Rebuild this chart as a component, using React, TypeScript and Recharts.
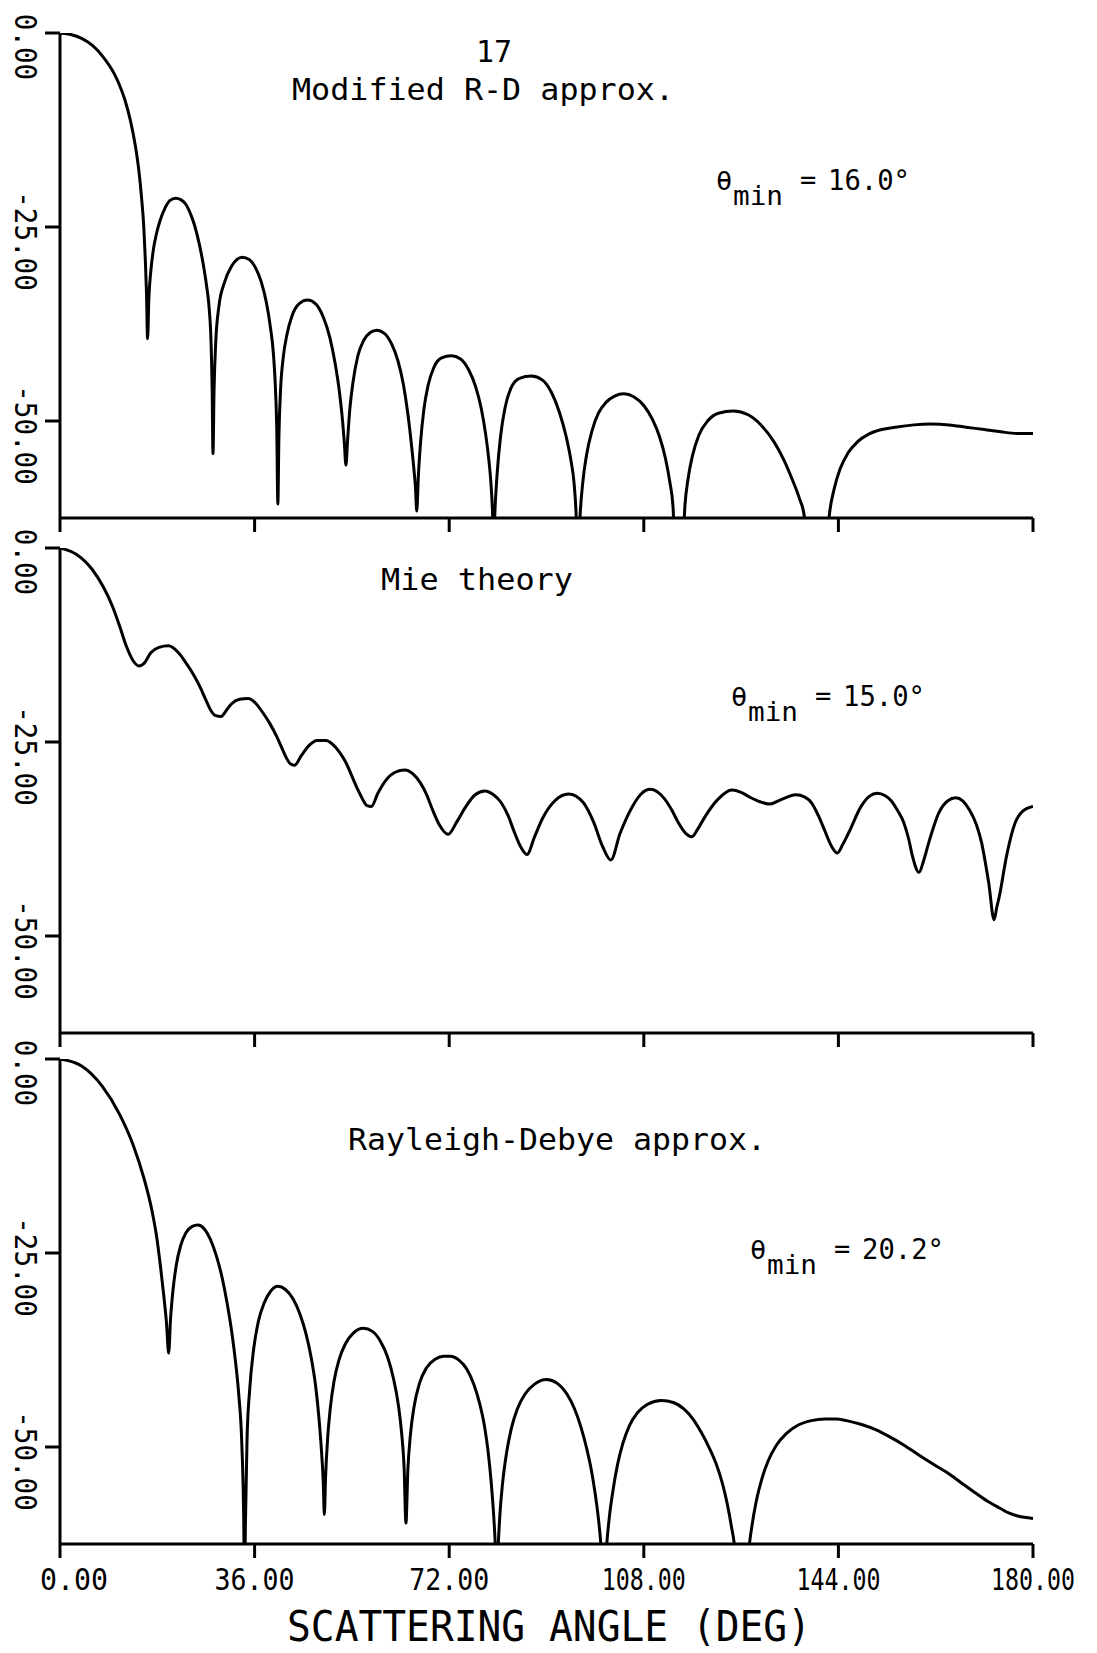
import React from 'react'
import { LineChart, Line, XAxis, YAxis } from 'recharts'

const FONT = '"DejaVu Sans Mono", "Liberation Mono", monospace'

const xTicks = [0, 36, 72, 108, 144, 180]
const yTicks = [0, -25, -50]

// Modified R-D approx. (top panel)
const modAngle = [
  0, 2, 4, 6, 8, 10, 11, 12, 13, 14,
  14.6, 15.1, 15.5, 15.8, 16.0, 16.2, 16.45, 16.8, 17.3, 17.8,
  18.5, 19.4, 20.3, 21.4, 22.4, 23.3, 24.2, 24.9, 25.8, 26.5,
  27.1, 27.6, 27.95, 28.15, 28.3, 28.5, 28.8, 29.4, 30.4, 31.7,
  33.7, 35.0, 36.2, 37.2, 38.2, 38.9, 39.5, 39.9, 40.1, 40.3,
  40.5, 40.8, 41.3, 42.0, 42.9, 44.2, 45.8, 47.3, 48.7, 49.9,
  50.9, 51.7, 52.3, 52.6, 52.9, 53.2, 53.6, 54.2, 55.1, 56.2,
  57.4, 58.6, 60.0, 61.3, 62.5, 63.5, 64.3, 64.9, 65.4, 65.75,
  66.0, 66.3, 66.7, 67.3, 68.1, 69.1, 70.5, 72.4, 74.1, 75.6,
  76.9, 77.9, 78.7, 79.3, 79.7, 80.0, 80.2, 80.5, 80.9, 81.5,
  82.3, 83.4, 85.0, 87.2, 89.2, 90.9, 92.4, 93.6, 94.5, 95.1,
  95.5, 95.8, 96.2, 96.7, 97.4, 98.4, 99.6, 101.0, 102.6, 104.3,
  106.2, 108.0, 109.6, 110.9, 112.0, 112.8, 113.4, 114.0, 115.0, 115.6,
  116.2, 117.0, 118.2, 119.8, 121.8, 124.6, 127.3, 129.8, 132.0, 133.9,
  135.5, 136.8, 137.7, 138.5, 141.5, 142.3, 143.2, 144.3, 145.7, 147.5,
  149.6, 152.0, 154.5, 158, 161, 164.5, 167.6, 171, 174.1, 177,
  180,
]
const modDb = [
  0, -0.2, -0.7, -1.6, -3.1, -5.2, -6.7, -8.6, -11.2, -14.8,
  -17.8, -21.3, -25, -29.5, -33.5, -39.4, -34, -30.7, -27.8, -26.0,
  -24.2, -22.6, -21.6, -21.3, -21.5, -22.1, -23.4, -24.8, -27.3, -29.8,
  -32.5, -35.5, -40, -46, -54.2, -46, -40, -35.2, -32.2, -30.1,
  -28.9, -29.2, -30.3, -32.0, -34.8, -37.8, -41.5, -46.5, -51, -60.7,
  -52, -46, -41.8, -38.8, -36.5, -34.9, -34.4, -34.9, -36.6, -39.2,
  -42.6, -46.3, -50.2, -52.8, -55.7, -52.5, -48.6, -45, -41.6, -39.6,
  -38.6, -38.3, -38.7, -40.0, -42.2, -45.2, -48.8, -52.3, -55.7, -58.5,
  -61.6, -57, -52.8, -48.6, -45.4, -43.2, -41.9, -41.6, -42, -43.4,
  -45.6, -48.3, -51.5, -54.8, -57.8, -61.5, -66, -61, -56.5, -52,
  -48.4, -45.8, -44.5, -44.2, -44.7, -46.3, -48.9, -51.9, -55, -58,
  -62.4, -70, -62.4, -58, -54.4, -51.3, -49, -47.6, -46.8, -46.5,
  -46.9, -48.0, -49.8, -52, -54.8, -57.8, -61, -70, -70, -61,
  -57.4, -54.5, -51.8, -50, -49, -48.7, -49.2, -50.6, -52.6, -55,
  -57.6, -60, -62.3, -70, -70, -62.3, -58.8, -56.2, -54.2, -52.7,
  -51.7, -51.1, -50.8, -50.5, -50.4, -50.5, -50.8, -51.1, -51.4, -51.6,
  -51.6,
]

// Mie theory (middle panel)
const mieAngle = [
  0, 3, 6, 8, 9.7, 11, 12.3, 13.5, 14.6, 15.5,
  16.8, 18.3, 20.1, 21.8, 23.3, 24.6, 25.9, 27.0, 27.8, 28.8,
  29.8, 30.7, 31.7, 33.2, 34.8, 36.2, 37.5, 38.8, 40.1, 41.0,
  41.7, 42.6, 43.4, 44.6, 46.0, 47.6, 49.2, 50.6, 51.8, 53.0,
  54.0, 55.0, 56.0, 56.8, 57.6, 58.8, 60.2, 62.0, 63.8, 65.3,
  66.7, 67.9, 68.9, 70.2, 71.8, 73.4, 75.1, 76.8, 78.6, 80.2,
  81.6, 82.9, 84.1, 85.3, 86.4, 87.8, 89.3, 91.5, 94.1, 96.8,
  98.7, 100.4, 101.9, 103.6, 105.9, 107.5, 109.2, 111.8, 113.2, 114.4,
  115.8, 116.9, 118.0, 119.0, 121.7, 124.3, 126.0, 127.6, 129.5, 131.2,
  133.5, 136.1, 137.8, 139.1, 140.3, 141.4, 142.7, 143.8, 144.8, 145.9,
  148.2, 149.7, 151.2, 152.6, 153.8, 155.0, 156.1, 157.0, 157.7, 158.9,
  159.8, 160.7, 162.6, 164.2, 165.7, 167.0, 168.2, 169.5, 170.5, 171.3,
  171.8, 172.8, 173.3, 173.8, 175.1, 176.7, 178.1, 180,
]
const mieDb = [
  0, -0.8, -2.8, -5.0, -7.5, -10, -12.7, -14.5, -15.2, -14.9,
  -13.5, -12.8, -12.6, -13.4, -14.8, -16.2, -17.9, -19.6, -20.8, -21.6,
  -21.7, -21.0, -20.1, -19.5, -19.4, -20.0, -21.2, -22.6, -24.3, -25.7,
  -26.8, -27.8, -28.0, -26.8, -25.5, -24.8, -24.8, -25.4, -26.4, -27.8,
  -29.4, -31.0, -32.4, -33.2, -33.3, -31.6, -30.0, -28.9, -28.6, -29.1,
  -30.3, -31.9, -33.7, -35.7, -36.9, -35.3, -33.3, -31.8, -31.3, -31.8,
  -32.8, -34.5, -36.7, -38.6, -39.5, -37.2, -34.8, -32.6, -31.7, -32.8,
  -35.3, -38.5, -40.2, -36.8, -33.3, -31.7, -31.1, -32.3, -33.8, -35.4,
  -36.8, -37.2, -36.2, -35.0, -32.4, -31.2, -31.5, -32.1, -32.7, -33.0,
  -32.4, -31.8, -32.1, -32.9, -34.5, -36.3, -38.4, -39.3, -38.2, -36.7,
  -33.3, -32.0, -31.6, -31.9, -32.6, -33.9, -35.4, -37.5, -39.7, -41.8,
  -40.2, -38.0, -34.1, -32.6, -32.2, -32.6, -33.7, -35.6, -38.0, -41.0,
  -43.1, -47.9, -46.3, -44.8, -39.7, -35.4, -33.9, -33.3,
]

// Rayleigh-Debye approx. (bottom panel)
const rdAngle = [
  0, 4.0, 7.8, 11.0, 13.6, 15.5, 17.0, 17.9, 18.6, 19.2,
  19.7, 20.1, 20.45, 20.9, 21.5, 22.3, 23.3, 24.4, 25.5, 26.7,
  27.8, 28.9, 30.0, 30.9, 31.8, 32.5, 33.1, 33.6, 34.0, 34.1,
  34.3, 34.6, 35.1, 35.8, 36.7, 37.8, 39.0, 40.3, 41.7, 43.1,
  44.4, 45.5, 46.5, 47.3, 47.9, 48.4, 48.7, 48.9, 49.15, 49.5,
  50.0, 50.7, 51.6, 52.8, 54.3, 56.1, 57.8, 59.3, 60.6, 61.7,
  62.6, 63.2, 63.65, 64.0, 64.35, 64.8, 65.5, 66.5, 67.8, 69.4,
  71.0, 72.2, 73.8, 75.3, 76.6, 77.6, 78.5, 79.2, 79.8, 80.2,
  80.55, 80.8, 81.05, 81.4, 81.9, 82.6, 83.5, 84.6, 86.0, 87.8,
  90.0, 92.0, 93.8, 95.2, 96.4, 97.4, 98.3, 99.0, 99.6, 100.1,
  100.6, 101.1, 101.6, 102.3, 103.1, 104.1, 105.3, 106.8, 108.7, 111.2,
  113.6, 115.4, 117.1, 118.7, 120.1, 121.4, 122.5, 123.4, 124.2, 124.9,
  125.5, 126.8, 127.4, 128.0, 128.8, 129.8, 131.0, 132.5, 134.3, 136.5,
  139.0, 141.5, 143.5, 145.5, 148.3, 151.0, 153.5, 156.0, 158.8, 161.5,
  164.1, 166.7, 169.3, 171.6, 173.9, 175.5, 177.2, 180,
]
const rdDb = [
  0, -0.9, -3.5, -7.1, -11.2, -15.3, -19.5, -23, -26.8, -30.5,
  -34, -37.9, -33.5, -29.8, -26.6, -24.1, -22.4, -21.6, -21.4, -21.9,
  -23.2, -25.3, -28.2, -31.4, -35.3, -39.2, -43.5, -49, -60, -70,
  -60, -49, -42.5, -37.5, -33.8, -31.4, -29.9, -29.3, -29.7, -30.9,
  -32.9, -35.4, -38.6, -42.2, -46.2, -50.8, -54.5, -58.7, -53.5, -49.0,
  -45, -41.5, -38.8, -36.7, -35.3, -34.7, -35.1, -36.4, -38.4, -41.2,
  -44.6, -48.2, -52.5, -59.8, -53, -48.6, -44.8, -41.8, -39.8, -38.7,
  -38.3, -38.3, -38.8, -40.0, -42, -44.3, -47.2, -50.6, -54.8, -58.5,
  -63, -68, -63, -58.5, -54.5, -50.8, -47.6, -45.1, -43.2, -41.9,
  -41.3, -41.8, -43.2, -45.1, -47.5, -50.1, -53, -56, -59.2, -63,
  -70, -63, -59.2, -55.6, -52.4, -49.6, -47.3, -45.6, -44.5, -44.0,
  -44.3, -45.1, -46.4, -48.2, -50.1, -52.2, -54.6, -57.2, -60.2, -63.5,
  -70, -70, -63.5, -60.2, -57, -54.2, -51.8, -49.8, -48.3, -47.2,
  -46.6, -46.4, -46.4, -46.6, -47.1, -47.8, -48.7, -49.7, -51.0, -52.2,
  -53.3, -54.6, -55.9, -57.0, -57.9, -58.5, -58.9, -59.2,
]

const panelTitles = ['Modified R-D approx.', 'Mie theory', 'Rayleigh-Debye approx.']
const thetaMin = ['16.0°', '15.0°', '20.2°']

const toRows = (angle: number[], db: number[]) => angle.map((a, i) => ({ a, v: db[i] }))

const axisStyle = { stroke: '#000', strokeWidth: 3 }
const TOP = 33

function YTick(props: any) {
  const { y, payload } = props
  const label = Number(payload.value).toFixed(2)
  const cy = y + 14
  return (
    <text
      x={15}
      y={cy}
      transform={`rotate(90, 15, ${cy})`}
      textAnchor="middle"
      fontFamily={FONT}
      fontSize={30}
      fill="#000"
      textLength={label.length * 16.6}
      lengthAdjust="spacingAndGlyphs"
    >
      {label}
    </text>
  )
}

function XTick(props: any) {
  const { x, y, payload } = props
  const v = Number(payload.value)
  const label = v.toFixed(2)
  const first = v === 0
  return (
    <text
      x={first ? x - 20 : x}
      y={y + 30}
      textAnchor={first ? 'start' : 'middle'}
      fontFamily={FONT}
      fontSize={30}
      fill="#000"
      textLength={label.length === 4 ? 68 : label.length === 5 ? 80 : 84}
      lengthAdjust="spacingAndGlyphs"
    >
      {label}
    </text>
  )
}

function Panel({ angle, db, plotTop, labels }: { angle: number[]; db: number[]; plotTop: number; labels?: boolean }) {
  const axisH = labels ? 100 : 20
  return (
    <div style={{ position: 'absolute', left: 0, top: plotTop - TOP }}>
      <LineChart
        width={1097}
        height={TOP + 485 + axisH}
        data={toRows(angle, db)}
        margin={{ top: TOP, right: 64, bottom: 0, left: 0 }}
      >
        <XAxis
          dataKey="a"
          type="number"
          domain={[0, 180]}
          ticks={xTicks}
          interval={0}
          allowDataOverflow
          height={axisH}
          tickSize={14}
          axisLine={axisStyle}
          tickLine={axisStyle}
          tick={labels ? XTick : () => <g />}
        />
        <YAxis
          type="number"
          domain={[-62.5, 0]}
          ticks={yTicks}
          interval={0}
          allowDataOverflow
          width={60}
          tickSize={15}
          axisLine={axisStyle}
          tickLine={axisStyle}
          tick={YTick}
        />
        <Line
          type="monotone"
          dataKey="v"
          stroke="#000"
          strokeWidth={3}
          dot={false}
          isAnimationActive={false}
        />
      </LineChart>
    </div>
  )
}

function ThetaNote({ x, y, value }: { x: number; y: number; value: string }) {
  return (
    <g>
      <text x={x} y={y} fontSize={27}>θ</text>
      <text x={x + 17} y={y + 15} fontSize={27} textLength={50} lengthAdjust="spacingAndGlyphs">min</text>
      <text x={x + 84} y={y - 1} fontSize={27}>=</text>
      <text x={x + 112} y={y} fontSize={28} textLength={82} lengthAdjust="spacingAndGlyphs">{value}</text>
    </g>
  )
}

export default function App() {
  return (
    <div style={{ position: 'absolute', left: 0, top: 0, width: 1097, height: 1653, background: '#fff', fontFamily: FONT }}>
      <Panel angle={modAngle} db={modDb} plotTop={33} />
      <Panel angle={mieAngle} db={mieDb} plotTop={548} />
      <Panel angle={rdAngle} db={rdDb} plotTop={1059} labels />
      <svg
        width={1097}
        height={1653}
        style={{ position: 'absolute', left: 0, top: 0, pointerEvents: 'none' }}
        fontFamily={FONT}
        fill="#000"
      >
        <text x={494} y={62} fontSize={30} textAnchor="middle">17</text>
        <text x={292} y={100} fontSize={30} textLength={382} lengthAdjust="spacingAndGlyphs">{panelTitles[0]}</text>
        <ThetaNote x={716} y={190} value={thetaMin[0]} />

        <text x={381} y={590} fontSize={30} textLength={192} lengthAdjust="spacingAndGlyphs">{panelTitles[1]}</text>
        <ThetaNote x={731} y={706} value={thetaMin[1]} />

        <text x={348} y={1150} fontSize={30} textLength={418} lengthAdjust="spacingAndGlyphs">{panelTitles[2]}</text>
        <ThetaNote x={750} y={1259} value={thetaMin[2]} />

        <text x={287} y={1641} fontSize={42} textLength={524} lengthAdjust="spacingAndGlyphs">SCATTERING ANGLE (DEG)</text>
      </svg>
    </div>
  )
}
